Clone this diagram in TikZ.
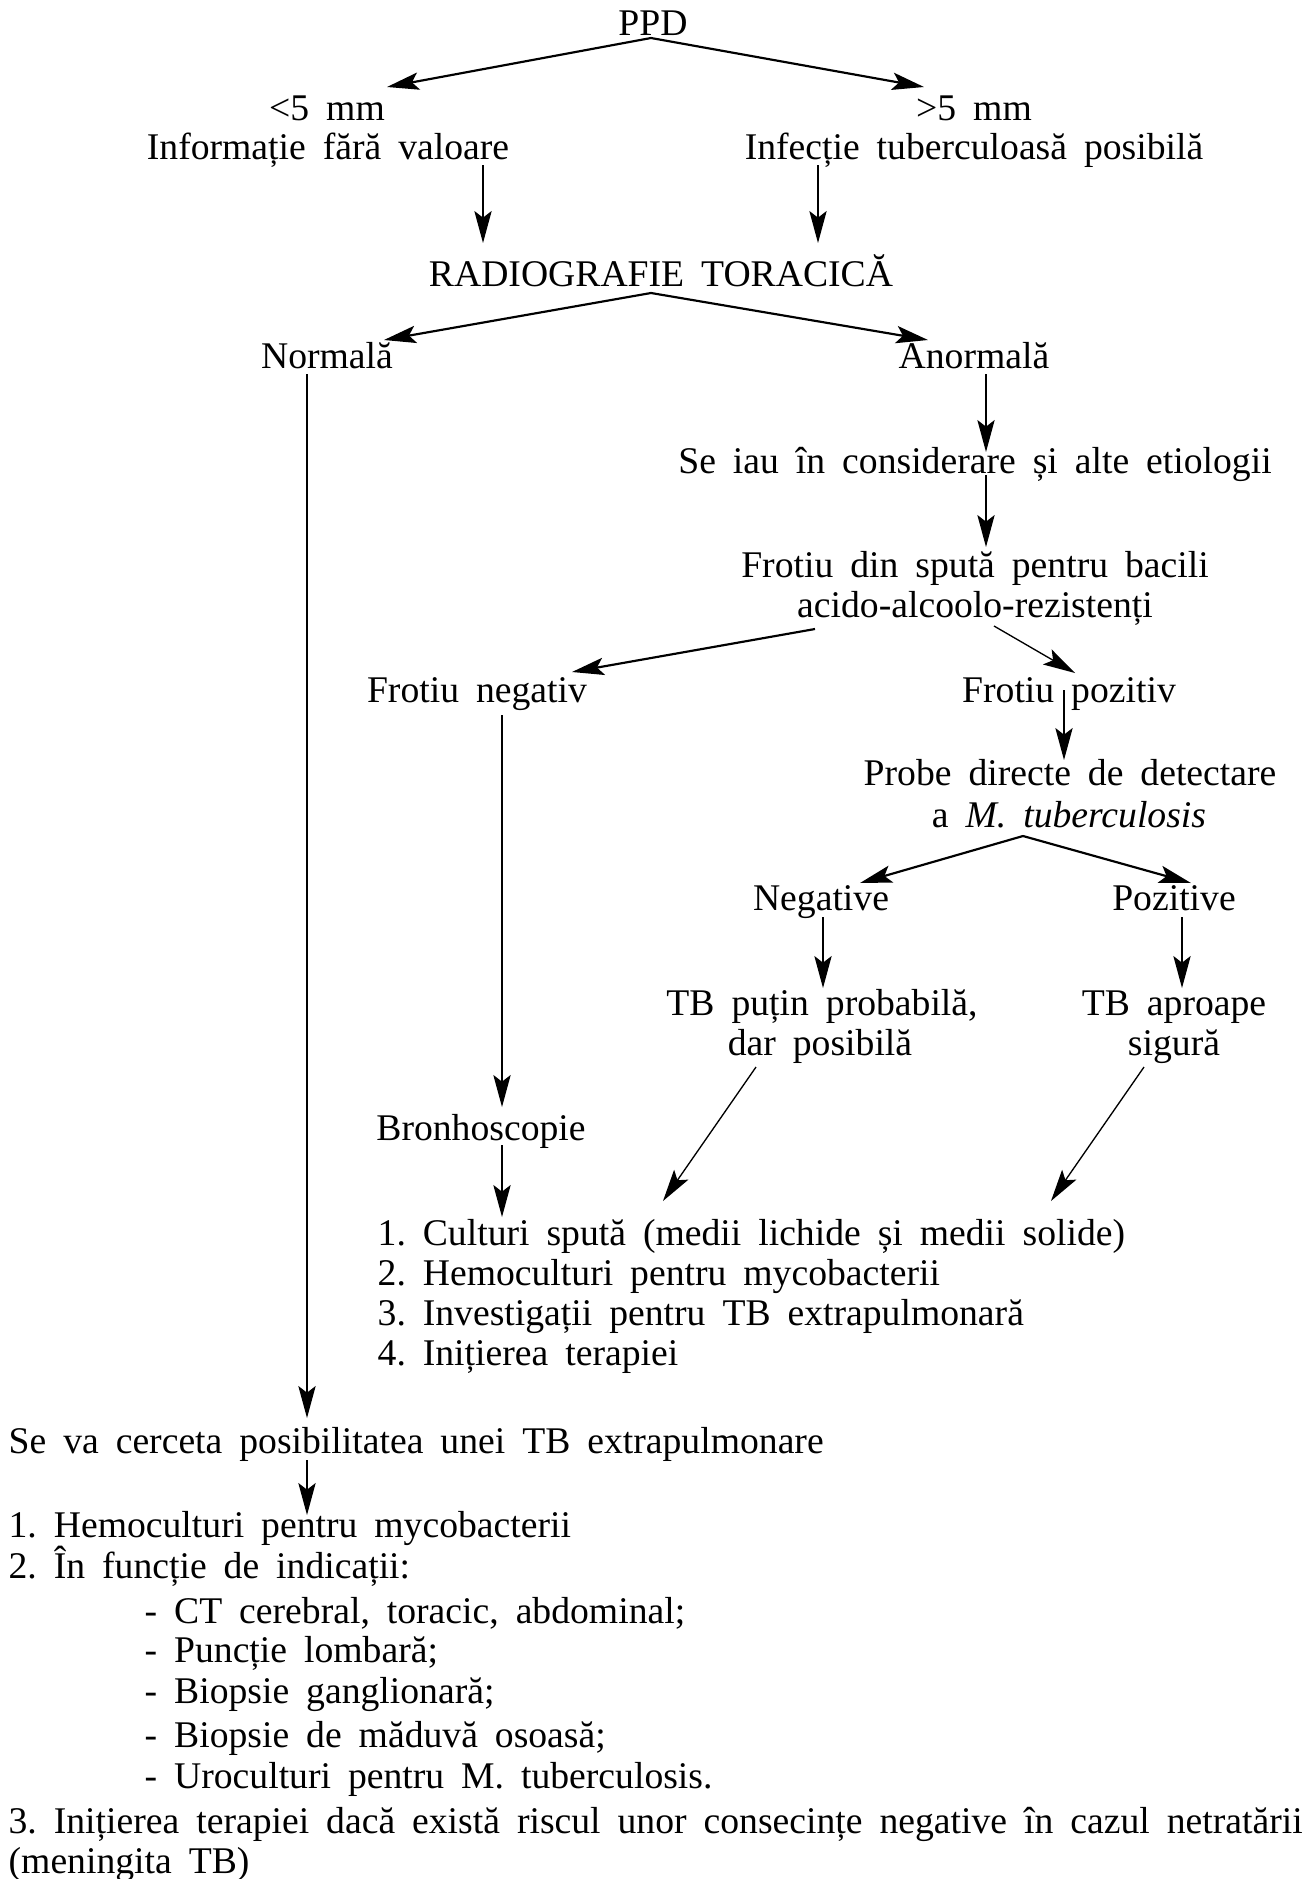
\documentclass[tikz,border=0pt]{standalone}
\usepackage{fontspec}
\setmainfont{Liberation Serif}[WordSpace=1.8]
\usetikzlibrary{calc,arrows.meta}
\frenchspacing
\begin{document}
\begin{tikzpicture}[x=0.3pt,y=-0.3pt,
  txt/.style={inner sep=0pt,anchor=base,font=\fontsize{11.3pt}{13.5pt}\selectfont},
  ltxt/.style={txt,anchor=base west},
  tip/.style={-{Stealth[length=9.6pt,width=5.2pt,inset=2pt]}},
  thinarr/.style={tip,line width=0.4pt},
  boldarr/.style={tip,line width=0.65pt}]
\useasboundingbox (0,0) rectangle (1313,1879);

% upper part of the tree
\node[txt] (ppd)   at (653,35)  {PPD};
\node[txt] (lt5)   at (327,120) {<5 mm};
\node[txt] (gt5)   at (974,120) {>5 mm};
\node[txt] (infA)  at (328,159) {Informație fără valoare};
\node[txt] (infB)  at (974,159) {Infecție tuberculoasă posibilă};
\node[txt] (radio) at (661,286) {RADIOGRAFIE TORACICĂ};
\node[txt] (norm)  at (327,368) {Normală};
\node[txt] (anorm) at (974,368) {Anormală};
\node[txt] (seiau) at (975,473) {Se iau în considerare și alte etiologii};
\node[txt] (fsa)   at (975,577) {Frotiu din spută pentru bacili};
\node[txt] (fsb)   at (975,617) {acido-alcoolo-rezistenți};
\node[txt] (fneg)  at (477,702) {Frotiu negativ};
\node[txt] (fpoz)  at (1069,702) {Frotiu pozitiv};
\node[txt] (pra)   at (1070,785) {Probe directe de detectare};
\node[txt] (prb)   at (1069,827) {a \textit{M. tuberculosis}};
\node[txt] (neg)   at (821,910) {Negative};
\node[txt] (poz)   at (1174,910) {Pozitive};
\node[txt] (tbpa)  at (822,1015) {TB puțin probabilă,};
\node[txt] (tbpb)  at (820,1055) {dar posibilă};
\node[txt] (tbaa)  at (1174,1015) {TB aproape};
\node[txt] (tbab)  at (1174,1055) {sigură};
\node[txt] (bron)  at (481,1140) {Bronhoscopie};

% list of investigations
\node[ltxt] (c1) at (377,1245) {1. Culturi spută (medii lichide și medii solide)};
\node[ltxt] (c2) at (377,1285) {2. Hemoculturi pentru mycobacterii};
\node[ltxt] (c3) at (377,1325) {3. Investigații pentru TB extrapulmonară};
\node[ltxt] (c4) at (377,1365) {4. Inițierea terapiei};

% lower part
\node[ltxt] (seva) at (8,1453) {Se va cerceta posibilitatea unei TB extrapulmonare};
\node[ltxt] (h1) at (8,1537) {1. Hemoculturi pentru mycobacterii};
\node[ltxt] (h2) at (8,1578) {2. În funcție de indicații:};
\node[ltxt] (s1) at (144,1623) {- CT cerebral, toracic, abdominal;};
\node[ltxt] (s2) at (144,1662) {- Puncție lombară;};
\node[ltxt] (s3) at (144,1703) {- Biopsie ganglionară;};
\node[ltxt] (s4) at (144,1747) {- Biopsie de măduvă osoasă;};
\node[ltxt] (s5) at (144,1788) {- Uroculturi pentru M. tuberculosis.};
\node[ltxt] (h3) at (8,1833) {3. Inițierea terapiei dacă există riscul unor consecințe negative în cazul netratării};
\node[ltxt] (h4) at (8,1873) {(meningita TB)};

% connectors
\draw[boldarr] ($(ppd.base)+(-2,3)$) -- ($(lt5.base)+(60,-33)$);
\draw[boldarr] ($(ppd.base)+(-2,3)$) -- ($(gt5.base)+(-50,-33)$);
\draw[thinarr] ($(infA.base)+(155,6)$) -- ($(radio.base)+(-178,-43)$);
\draw[thinarr] ($(infB.base)+(-156,6)$) -- ($(radio.base)+(157,-43)$);
\draw[boldarr] ($(radio.base)+(-10,7)$) -- ($(norm.base)+(57,-28)$);
\draw[boldarr] ($(radio.base)+(-10,7)$) -- ($(anorm.base)+(-46,-28)$);
\draw[thinarr] ($(norm.base)+(-20,6)$) -- ($(seva.base west)+(299,-35)$);
\draw[thinarr] ($(anorm.base)+(12,6)$) -- ($(seiau.base)+(11,-21)$);
\draw[thinarr] ($(seiau.base)+(11,2)$) -- ($(fsa.base)+(11,-30)$);
\draw[boldarr] ($(fsb.base)+(-160,12)$) -- ($(fneg.base)+(95,-30)$);
\draw[thinarr] ($(fsb.base)+(19,9)$) -- ($(fpoz.base)+(6,-29)$);
\draw[thinarr] ($(fneg.base)+(25,13)$) -- ($(bron.base)+(21,-33)$);
\draw[thinarr] ($(fpoz.base)+(-5,-12)$) -- ($(pra.base)+(-6,-25)$);
\draw[boldarr] ($(prb.base)+(-46,9)$) -- ($(neg.base)+(39,-27)$);
\draw[boldarr] ($(prb.base)+(-46,9)$) -- ($(poz.base)+(17,-27)$);
\draw[thinarr] ($(neg.base)+(2,7)$) -- ($(tbpa.base)+(1,-27)$);
\draw[thinarr] ($(poz.base)+(8,7)$) -- ($(tbaa.base)+(8,-27)$);
\draw[thinarr] ($(tbpb.base)+(-64,12)$) -- ($(c1.base west)+(286,-44)$);
\draw[thinarr] ($(tbab.base)+(-30,12)$) -- ($(c1.base west)+(674,-44)$);
\draw[thinarr] ($(bron.base)+(21,5)$) -- ($(c1.base west)+(125,-28)$);
\draw[thinarr] ($(seva.base west)+(299,7)$) -- ($(h1.base west)+(299,-22)$);
\end{tikzpicture}
\end{document}
